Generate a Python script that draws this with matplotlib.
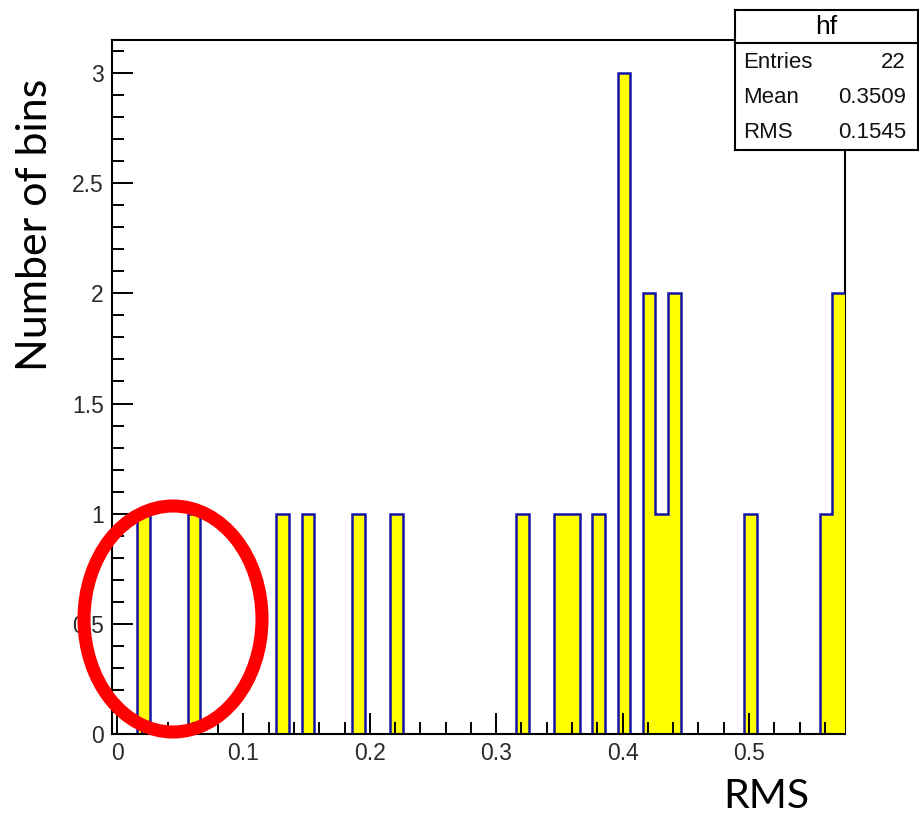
import numpy as np
import matplotlib
matplotlib.use("Agg")
import matplotlib.pyplot as plt
from matplotlib.patches import Ellipse
from matplotlib.ticker import MultipleLocator, FuncFormatter

W, H = 920, 817

# histogram "hf": 58 bins of width 0.01 starting at -0.004
x_lo, bin_w, n_bins = -0.004, 0.01, 58
# centres of the non-empty bins and their contents
filled_x = [0.021, 0.061, 0.131, 0.151, 0.191, 0.221, 0.321, 0.351, 0.361,
            0.381, 0.401, 0.421, 0.431, 0.441, 0.501, 0.561, 0.571]
filled_n = [1, 1, 1, 1, 1, 1, 1, 1, 1, 1, 3, 2, 1, 2, 1, 1, 2]

stats_title = "hf"
stats_rows = [("Entries", "22"), ("Mean", "0.3509"), ("RMS", "0.1545")]

edges = x_lo + bin_w * np.arange(n_bins + 1)
counts, _ = np.histogram(filled_x, bins=edges, weights=filled_n)


def fx(x):
    return x / W


def fy(y):
    return 1 - y / H


fig = plt.figure(figsize=(W / 100, H / 100), dpi=100)
fig.patch.set_facecolor("white")

ax = fig.add_axes([fx(112), fy(734), (845 - 112) / W, (734 - 40) / H])
ax.stairs(counts, edges, fill=True, facecolor="#ffff00", zorder=1)
ax.stairs(counts, edges, baseline=None, color="#1414a6", linewidth=1.8, zorder=1.5)

ax.set_xlim(edges[0], edges[-1])
ax.set_ylim(0, 3.15)

ax.xaxis.set_major_locator(MultipleLocator(0.1))
ax.xaxis.set_minor_locator(MultipleLocator(0.02))
ax.yaxis.set_major_locator(MultipleLocator(0.5))
ax.yaxis.set_minor_locator(MultipleLocator(0.1))
fmt = FuncFormatter(lambda v, p: f"{v:g}")
ax.xaxis.set_major_formatter(fmt)
ax.yaxis.set_major_formatter(fmt)

ax.tick_params(which="both", direction="in", top=False, right=False,
               width=1.4, color="black")
ax.tick_params(which="major", length=15, labelsize=16.5, labelcolor="#2a2a2a")
ax.tick_params(which="minor", length=8.5)
ax.tick_params(axis="x", which="major", pad=6)
ax.tick_params(axis="y", which="major", pad=6)
for lab in ax.get_xticklabels() + ax.get_yticklabels():
    lab.set_family("Liberation Sans")

for s in ax.spines.values():
    s.set_linewidth(1.5)
ax.spines["right"].set_zorder(0.5)

# stats box
box = fig.add_axes([fx(735), fy(150), (918 - 735) / W, (150 - 10) / H])
box.set_zorder(5)
box.set_facecolor("white")
box.set_xticks([])
box.set_yticks([])
for s in box.spines.values():
    s.set_linewidth(1.5)
box.axhline(1 - (43 - 10) / 140, color="black", linewidth=1.5)
box.text(0.5, 1 - (27 - 10) / 140, stats_title, ha="center", va="center",
         fontsize=19, family="Liberation Sans")
for i, (name, val) in enumerate(stats_rows):
    yy = 1 - (62 + 35.5 * i - 10) / 140
    box.text((743 - 735) / 183, yy, name, ha="left", va="center",
             fontsize=16, family="Liberation Sans", color="#111111")
    box.text((906 - 735) / 183, yy, val, ha="right", va="center",
             fontsize=16, family="Liberation Sans", color="#111111")

# axis titles
fig.text(fx(35), fy(225), "Number of bins", rotation=90, ha="center",
         va="center", fontsize=31, family="Lato")
fig.text(fx(766), fy(797), "RMS", ha="center", va="center",
         fontsize=29.5, family="Lato")

# red highlight ring
ring = Ellipse((fx(173), fy(619)), 178 / W, 226 / H, transform=fig.transFigure,
               fill=False, edgecolor="red", linewidth=9.4)
fig.add_artist(ring)

fig.savefig("out.png", dpi=100)
